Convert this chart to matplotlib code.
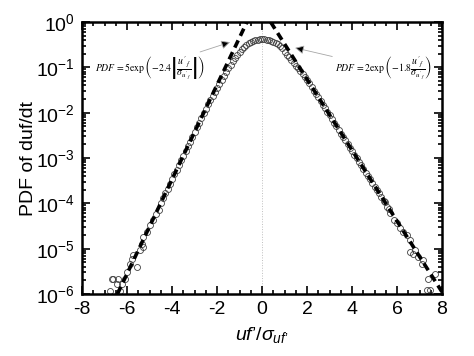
import numpy as np
import matplotlib
matplotlib.use("Agg")
import matplotlib.pyplot as plt
from matplotlib.ticker import LogLocator, MultipleLocator, NullFormatter

plt.rcParams['font.family'] = ['Liberation Sans', 'DejaVu Sans']
plt.rcParams['axes.unicode_minus'] = False
plt.rcParams['mathtext.fontset'] = 'custom'
plt.rcParams['mathtext.rm'] = 'Liberation Sans'
plt.rcParams['mathtext.it'] = 'Liberation Sans:italic'

x_core = [-4.5, -4.4, -4.3, -4.2, -4.1, -4.0, -3.9, -3.8, -3.7, -3.6,
          -3.5, -3.4, -3.3, -3.2, -3.1, -3.0, -2.9, -2.8, -2.7, -2.6,
          -2.5, -2.4, -2.3, -2.2, -2.1, -2.0, -1.9, -1.8, -1.7, -1.6,
          -1.5, -1.4, -1.3, -1.2, -1.1, -1.0, -0.9, -0.8, -0.7, -0.6,
          -0.5, -0.4, -0.3, -0.2, -0.1, 0.0, 0.1, 0.2, 0.3, 0.4,
          0.5, 0.6, 0.7, 0.8, 0.9, 1.0, 1.1, 1.2, 1.3, 1.4,
          1.5, 1.6, 1.7, 1.8, 1.9, 2.0, 2.1, 2.2, 2.3, 2.4,
          2.5, 2.6, 2.7, 2.8, 2.9, 3.0, 3.1, 3.2, 3.3, 3.4,
          3.5, 3.6, 3.7, 3.8, 3.9, 4.0, 4.1, 4.2, 4.3, 4.4,
          4.5, 4.6, 4.7, 4.8, 4.9, 5.0, 5.1, 5.2, 5.3, 5.4]
logpdf_core = [-3.99, -3.88, -3.78, -3.68, -3.57, -3.47, -3.36, -3.26, -3.16, -3.05,
               -2.95, -2.84, -2.74, -2.64, -2.53, -2.43, -2.32, -2.22, -2.11, -2.01,
               -1.91, -1.81, -1.72, -1.63, -1.54, -1.45, -1.36, -1.27, -1.18, -1.10,
               -1.02, -0.94, -0.86, -0.79, -0.72, -0.66, -0.60, -0.55, -0.50, -0.47,
               -0.44, -0.42, -0.40, -0.39, -0.382, -0.38, -0.382, -0.39, -0.40, -0.415,
               -0.435, -0.46, -0.49, -0.53, -0.58, -0.66, -0.72, -0.78, -0.84, -0.90,
               -0.96, -1.02, -1.08, -1.14, -1.21, -1.28, -1.35, -1.43, -1.51, -1.58,
               -1.66, -1.74, -1.82, -1.90, -1.98, -2.06, -2.14, -2.22, -2.30, -2.38,
               -2.46, -2.53, -2.61, -2.69, -2.77, -2.85, -2.93, -3.00, -3.08, -3.16,
               -3.24, -3.32, -3.39, -3.47, -3.55, -3.63, -3.71, -3.78, -3.86, -3.94]

# scattered tail points
x_tail = [-4.6, -4.7, -4.83, -4.98, -5.12, -5.27, -5.35, -5.27, -5.42, -5.72,
          -5.79, -5.87, -5.57, -6.01, -6.09, -6.61, -6.68, -6.39, -6.24, -6.46,
          -6.74, -6.31,
          5.48, 5.56, 5.63, 5.7, 5.85, 6.0, 6.13, 6.28, 6.43, 6.58,
          6.58, 6.8, 6.73, 6.95, 7.1, 7.17, 7.69, 7.39, 7.32, 7.47]
logpdf_tail = [-4.15, -4.24, -4.37, -4.48, -4.63, -4.74, -4.89, -4.96, -5.03, -5.14,
               -5.22, -5.33, -5.40, -5.51, -5.66, -5.66, -5.66, -5.66, -5.77, -5.78,
               -5.93, -5.93,
               -3.97, -4.08, -4.12, -4.22, -4.37, -4.44, -4.55, -4.63, -4.70, -4.81,
               -5.07, -5.03, -5.11, -5.18, -5.33, -5.25, -5.55, -5.66, -5.92, -5.92]

# exponential fits written on the chart
a_left, k_left = 5.0, 2.4
a_right, k_right = 2.0, 1.8

x_data = np.array(x_core + x_tail)
pdf_data = 10.0 ** np.array(logpdf_core + logpdf_tail)

fig = plt.figure(figsize=(4.74, 3.56), dpi=100)
ax = fig.add_axes([0.173, 0.174, 0.7595, 0.764])

ax.axvline(0, color='0.75', lw=0.7, ls=':', zorder=0)

ax.plot(x_data, pdf_data, ls='none', marker='o', ms=4.3, mfc='none',
        mec='0.25', mew=0.6, zorder=2)

xl = np.linspace(-np.log(a_left / 1e-6) / k_left, -np.log(a_left) / k_left, 50)
ax.plot(xl, a_left * np.exp(k_left * xl), color='k', lw=2.6, dashes=(2.2, 1.4), zorder=3)
xr = np.linspace(np.log(a_right) / k_right, 8, 50)
ax.plot(xr, a_right * np.exp(-k_right * xr), color='k', lw=2.6, dashes=(2.2, 1.4), zorder=3)

ax.set_yscale('log')
ax.set_xlim(-8, 8)
ax.set_ylim(1e-6, 1)
ax.xaxis.set_major_locator(MultipleLocator(2))
ax.xaxis.set_minor_locator(MultipleLocator(0.5))
ax.yaxis.set_major_locator(LogLocator(base=10, numticks=10))
ax.yaxis.set_minor_locator(LogLocator(base=10, subs=np.arange(2, 10), numticks=20))
ax.yaxis.set_minor_formatter(NullFormatter())
ax.tick_params(which='both', direction='in', top=True, right=True, width=1.2)
ax.tick_params(which='major', length=6, labelsize=14, pad=5)
ax.tick_params(which='minor', length=3)
for s in ax.spines.values():
    s.set_linewidth(1.8)

ax.set_ylabel('PDF of duf/dt', fontsize=14, labelpad=-1)
ax.set_xlabel("$uf\u2019/\\sigma_{uf\u2019}$", fontsize=14, labelpad=5)

arrow = dict(arrowstyle='-|>', edgecolor='0.65', facecolor='k', lw=0.6,
             mutation_scale=13, shrinkA=0, shrinkB=0)
ax.annotate(r"$PDF\,=5\exp\left(-2.4\left|\dfrac{u'_f}{\sigma_{u'_f}}\right|\right)$",
            xy=(-1.42, 0.36), xytext=(-5.0, 0.095), ha='center', va='center',
            fontsize=7, math_fontfamily='stix', arrowprops=arrow)
ax.annotate(r"$PDF\,=2\exp\left(-1.8\dfrac{u'_f}{\sigma_{u'_f}}\right)$",
            xy=(1.47, 0.27), xytext=(5.4, 0.095), ha='center', va='center',
            fontsize=7, math_fontfamily='stix', arrowprops=arrow)

fig.savefig('out.png', dpi=100)
